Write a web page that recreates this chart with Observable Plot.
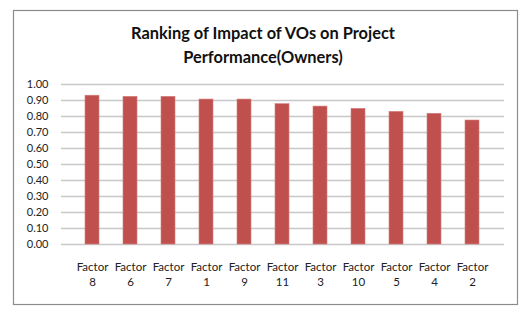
<!DOCTYPE html>
<html>
<head>
<meta charset="utf-8">
<script src="https://cdn.jsdelivr.net/npm/d3@7"></script>
<script src="https://cdn.jsdelivr.net/npm/@observablehq/plot@0.6"></script>
<style>
  html, body { margin: 0; padding: 0; background: #fff; }
  #chart { width: 528px; height: 319px; }
</style>
</head>
<body>
<div id="chart"></div>
<script>
const factors = ["8", "6", "7", "1", "9", "11", "3", "10", "5", "4", "2"];
const scores = [0.93, 0.923, 0.923, 0.906, 0.906, 0.877, 0.862, 0.848, 0.829, 0.817, 0.775];
const yTicks = [0, 0.1, 0.2, 0.3, 0.4, 0.5, 0.6, 0.7, 0.8, 0.9, 1.0];
const titleLines = ["Ranking of Impact of VOs on Project", "Performance(Owners)"];

const data = factors.map((f, i) => ({factor: f, score: scores[i]}));

const font = "Lato, 'Open Sans', sans-serif";

const chart = Plot.plot({
  width: 528,
  height: 319,
  marginLeft: 61,
  marginRight: 24,
  marginTop: 84,
  marginBottom: 75,
  style: {fontFamily: font, fontSize: "11px", color: "#222", background: "#fff"},
  x: {domain: factors, padding: 0.62, label: null},
  y: {domain: [0, 1], label: null},
  marks: [
    Plot.ruleY(yTicks, {stroke: "#c8c8c8", strokeWidth: 1.5}),
    Plot.barY(data, {x: "factor", y: "score", fill: "#c0504d", stroke: "#d4807e", strokeWidth: 0.6}),
    Plot.axisY({ticks: yTicks, tickFormat: d3.format(".2f"), tickSize: 0, tickPadding: 13, label: null, fontSize: 11}),
    Plot.axisX({tickSize: 0, tickPadding: 15, tickFormat: d => "Factor\n" + d, lineHeight: 1.35, label: null, fontSize: 11.5})
  ]
});

const svg = d3.select(chart);
svg.append("rect")
  .attr("x", 13.5).attr("y", 10.5).attr("width", 504).attr("height", 294)
  .attr("fill", "none").attr("stroke", "#8c8c8c").attr("stroke-width", 1.2);

svg.append("text")
  .attr("x", 263).attr("y", 39)
  .attr("text-anchor", "middle")
  .attr("font-family", font).attr("font-weight", "bold").attr("font-size", 16.4)
  .attr("fill", "#111")
  .selectAll("tspan").data(titleLines).join("tspan")
  .attr("x", 263).attr("dy", (d, i) => i === 0 ? 0 : 24)
  .text(d => d);

document.getElementById("chart").appendChild(chart);
</script>
</body>
</html>
